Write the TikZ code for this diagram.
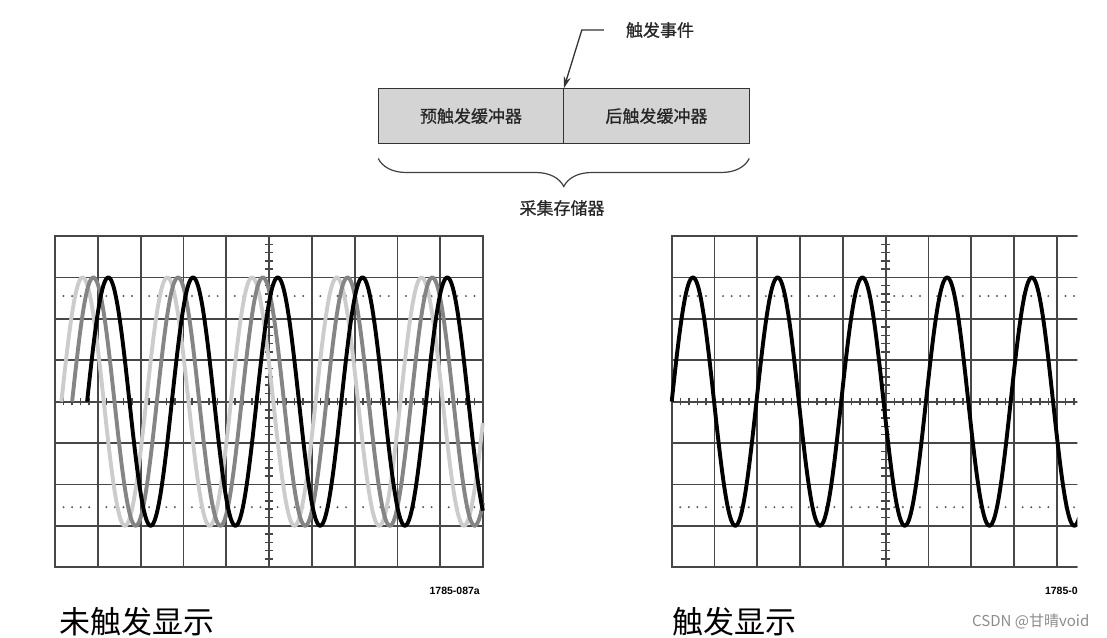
\documentclass[tikz,border=0pt]{standalone}
\usepackage{fontspec}
\setmainfont{Liberation Sans}
\newfontfamily\cjk{Noto Sans CJK SC}
\newfontfamily\cjkm[FakeBold=0.8]{Noto Sans CJK SC}
\usetikzlibrary{arrows.meta,decorations.pathreplacing,positioning}
\tikzset{
  bufbox/.style={draw=black!80, fill=black!17, line width=1.3pt, minimum width=185.5pt, minimum height=55pt,
    inner sep=0pt, outer sep=0pt, font=\cjkm\fontsize{17}{20}\selectfont, text=black!85},
  cnlabel/.style={font=\cjkm\fontsize{17}{20}\selectfont, text=black!85, inner sep=0pt},
  biglabel/.style={font=\cjk\fontsize{31}{36}\selectfont, inner sep=0pt, anchor=west},
  gridline/.style={draw=black!72, line width=1.8pt},
  tickline/.style={draw=black!72, line width=1.5pt},
  wave/.style={line width=3.9pt, line join=round},
  idlabel/.style={font=\bfseries\fontsize{10.5}{12}\selectfont, inner sep=0pt, anchor=east},
}
% graticule of one screen, 10 x 8 divisions, origin at its centre
\newcommand\drawgraticule{%
  \foreach \gx in {-5,...,5} \draw[gridline] (\gx,-4) -- (\gx,4);
  \foreach \gy in {-4,...,4} \draw[gridline] (-5,\gy) -- (5,\gy);
  \draw[gridline] (-5,-4) rectangle (5,4);
  \foreach \gt in {-24,...,24} \draw[tickline] (\gt/5,-0.09) -- (\gt/5,0.09);
  \foreach \gt in {-19,...,19} \draw[tickline] (-0.1,\gt/5) -- (0.1,\gt/5);
  \foreach \gx in {-5,...,4} \foreach \gk in {1,...,4} {
    \fill[black!65] (\gx+0.2*\gk,2.55) circle (1.1pt);
    \fill[black!65] (\gx+0.2*\gk,-2.55) circle (1.1pt);
  }%
}
\begin{document}
\begin{tikzpicture}[x=1pt,y=-1pt]
  \useasboundingbox (0,0) rectangle (1107,637);

  % acquisition memory
  \node[bufbox] (pre) at (471,116) {预触发缓冲器};
  \node[bufbox, right=0pt of pre] (post) {后触发缓冲器};
  \node[cnlabel] (event) at (660,30) {触发事件};
  \draw[-{Stealth[length=12pt,width=7pt]}, line width=1.3pt, black!80]
    ([xshift=-22pt]event.west) -- ++(-22,0) -- (pre.north east);
  \draw[decorate, decoration={brace, amplitude=28pt, mirror}, line width=1.2pt, black!75]
    ([yshift=-15pt]pre.south west) -- ([yshift=-15pt]post.south east);
  \node[cnlabel] (mem) at (562,208) {采集存储器};

  % untriggered screen
  \begin{scope}[shift={(269,401.6)}, x=42.8pt, y=41.4pt]
    \drawgraticule
    \draw[wave, black!20] plot[domain=-4.85:5, samples=300, smooth] (\x,{3*sin(360*(\x+4.85)/1.98)});
    \draw[wave, black!48] plot[domain=-4.6:5, samples=300, smooth] (\x,{3*sin(360*(\x+4.6)/1.98)});
    \draw[wave, black] plot[domain=-4.25:5, samples=300, smooth] (\x,{3*sin(360*(\x+4.25)/1.98)});
    \node[idlabel] (idA) at (4.93,-4.57) {1785-087a};
  \end{scope}

  % triggered screen, cut at the right
  \begin{scope}[shift={(885.7,401.6)}, x=42.8pt, y=41.4pt]
    \clip (-5.2,-4.8) rectangle (4.48,4.2);
    \drawgraticule
    \draw[wave, black] plot[domain=-5:5, samples=300, smooth] (\x,{3*sin(360*(\x+5)/1.98)});
    \node[idlabel] (idB) at (4.9,-4.57) {1785-087a};
  \end{scope}

  \node[biglabel] (untrig) at (59,622) {未触发显示};
  \node[biglabel] (trig) at (672,622) {触发显示};
  \node[font=\cjk\fontsize{15}{17}\selectfont, text=black!45, anchor=west, inner sep=0pt] (mark) at (972,621) {CSDN @甘晴void};
\end{tikzpicture}
\end{document}
